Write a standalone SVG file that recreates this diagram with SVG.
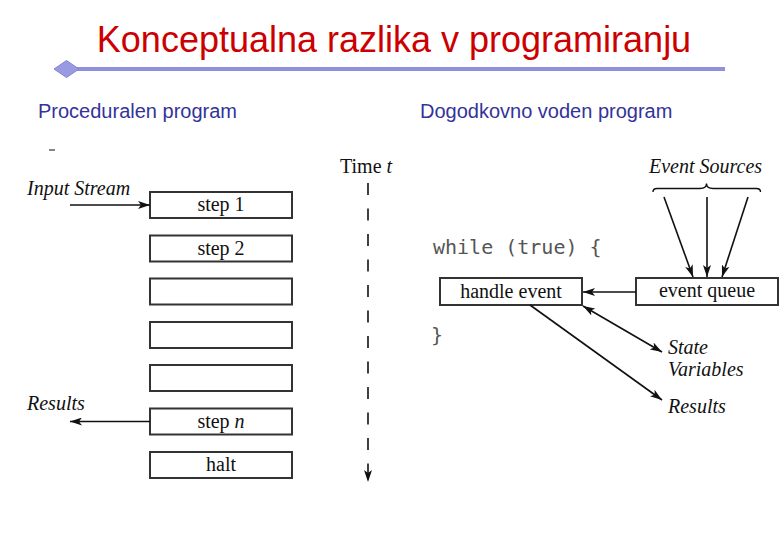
<svg xmlns="http://www.w3.org/2000/svg" width="780" height="540" viewBox="0 0 780 540">
<style>
.title{font-family:"Liberation Sans",Arial,sans-serif;font-size:36px;fill:#cc0000}
.sub{font-family:"Liberation Sans",Arial,sans-serif;font-size:20px;fill:#333399}
.box{fill:#ffffff;stroke:#333333;stroke-width:2}
.lbl{font-family:"Liberation Serif","Times New Roman",serif;font-size:20px;fill:#111111}
.it{font-style:italic}
.code{font-family:"DejaVu Sans Mono","Liberation Mono",monospace;font-size:20px;fill:#555555}
.conn{stroke:#111111;stroke-width:1.6;fill:none}
</style>
<defs>
<marker id="ah" viewBox="0 0 12 8" refX="12" refY="4" markerWidth="12" markerHeight="8" markerUnits="userSpaceOnUse" orient="auto-start-reverse">
<path d="M0,0 L12,4 L0,8 L3,4 z" fill="#111111"/>
</marker>
</defs>
<rect x="0" y="0" width="780" height="540" fill="#ffffff"/>
<g id="header">
<text class="title" x="394" y="52" text-anchor="middle">Konceptualna razlika v programiranju</text>
<line x1="70" y1="69" x2="725" y2="69" stroke="#9090dc" stroke-width="4"/>
<path d="M54,69 L66.5,60.5 L79,69 L66.5,77.5 z" fill="#9a9ae2" stroke="#8585d4" stroke-width="1"/>
<text class="sub" x="38" y="118">Proceduralen program</text>
<text class="sub" x="420" y="118">Dogodkovno voden program</text>
<line x1="49" y1="150" x2="55" y2="150" stroke="#333333" stroke-width="1.2"/>
</g>
<g id="step1"><rect class="box" x="150" y="192" width="142" height="26"/><text class="lbl" x="221" y="211" text-anchor="middle">step 1</text></g>
<g id="step2"><rect class="box" x="150" y="235.5" width="142" height="26"/><text class="lbl" x="221" y="254.5" text-anchor="middle">step 2</text></g>
<g id="step3"><rect class="box" x="150" y="278.5" width="142" height="26"/></g>
<g id="step4"><rect class="box" x="150" y="322" width="142" height="26"/></g>
<g id="step5"><rect class="box" x="150" y="365" width="142" height="26"/></g>
<g id="stepn"><rect class="box" x="150" y="408.5" width="142" height="26"/><text class="lbl" x="221" y="427.5" text-anchor="middle">step <tspan class="it">n</tspan></text></g>
<g id="halt"><rect class="box" x="150" y="452" width="142" height="26"/><text class="lbl" x="221" y="471" text-anchor="middle">halt</text></g>
<g id="inputStream"><text class="lbl it" x="27" y="195">Input Stream</text></g>
<g id="resultsLeft"><text class="lbl it" x="27" y="410">Results</text></g>
<g id="time"><text class="lbl" x="340" y="173">Time <tspan class="it">t</tspan></text></g>
<g id="eventSources">
<text class="lbl it" x="649" y="173">Event Sources</text>
<path d="M653,192 Q653,188.5 657,188.5 L700,188.5 Q706.5,188.5 706.5,183.5 Q706.5,188.5 713,188.5 L756.5,188.5 Q760.5,188.5 760.5,192" fill="none" stroke="#111111" stroke-width="1.4"/>
</g>
<g id="whileCode">
<text class="code" x="433" y="254">while (true) {</text>
<text class="code" x="431" y="342">}</text>
</g>
<g id="handleEvent"><rect class="box" x="440" y="278" width="142" height="27"/><text class="lbl" x="511" y="298" text-anchor="middle">handle event</text></g>
<g id="eventQueue"><rect class="box" x="636" y="278" width="142" height="27"/><text class="lbl" x="707" y="297" text-anchor="middle">event queue</text></g>
<g id="stateVars"><text class="lbl it" x="668" y="354">State</text><text class="lbl it" x="668" y="376">Variables</text></g>
<g id="resultsRight"><text class="lbl it" x="668" y="413">Results</text></g>
<g id="connectors">
<line class="conn" x1="70" y1="205" x2="150" y2="205" marker-end="url(#ah)"/>
<line class="conn" x1="150" y1="421.5" x2="70" y2="421.5" marker-end="url(#ah)"/>
<line class="conn" x1="368" y1="183" x2="368" y2="482" stroke-dasharray="12 13.5" marker-end="url(#ah)"/>
<line class="conn" x1="664" y1="197" x2="693" y2="277" marker-end="url(#ah)"/>
<line class="conn" x1="707" y1="197" x2="707" y2="277" marker-end="url(#ah)"/>
<line class="conn" x1="748" y1="197" x2="722" y2="277" marker-end="url(#ah)"/>
<line class="conn" x1="636" y1="292" x2="583" y2="292" marker-end="url(#ah)"/>
<line class="conn" x1="583" y1="306" x2="662" y2="352" marker-start="url(#ah)" marker-end="url(#ah)"/>
<line class="conn" x1="530" y1="305" x2="662" y2="400" marker-end="url(#ah)"/>
</g>
</svg>
